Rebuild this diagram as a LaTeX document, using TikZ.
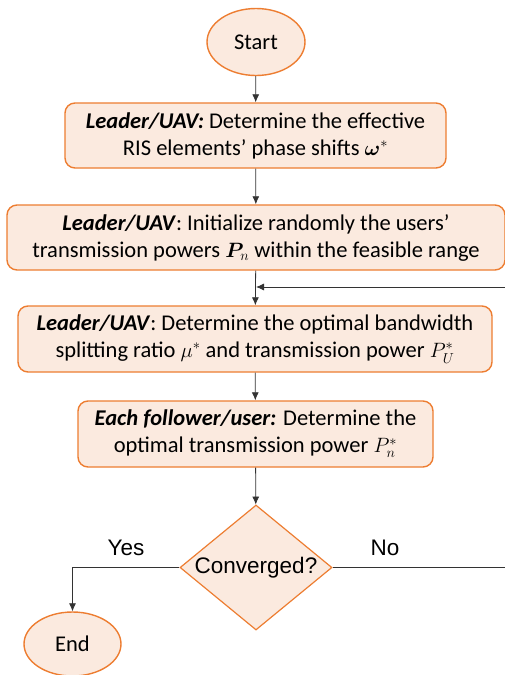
\documentclass[tikz,border=0pt]{standalone}
\usepackage{amsmath}
\usepackage{amssymb}
\usepackage{bm}
\usepackage{fontspec}
\setmainfont{Carlito}
\newfontfamily\arialfont{Liberation Sans}
\usetikzlibrary{shapes.geometric,arrows.meta}

\definecolor{boxfill}{HTML}{FBEADF}
\definecolor{boxline}{HTML}{ED7D31}

\tikzset{
  stepbox/.style={draw=boxline, fill=boxfill, line width=1.4pt, rounded corners=10pt,
    align=center, inner sep=0pt, font=\fontsize{22.5}{27}\selectfont},
  terminal/.style={ellipse, draw=boxline, fill=boxfill, line width=1.4pt,
    inner sep=0pt, font=\fontsize{22.5}{27}\selectfont},
  decision/.style={diamond, draw=boxline, fill=boxfill, line width=1.2pt,
    inner sep=0pt, font=\arialfont\fontsize{22.5}{27}\selectfont},
  flow/.style={draw=black!80, line width=0.8pt, -{Latex[length=8pt,width=7pt]}},
  answer/.style={font=\arialfont\fontsize{22.5}{27}\selectfont}
}

\begin{document}
\begin{tikzpicture}[x=1pt,y=-1pt]
\useasboundingbox (0,0) rectangle (504,675) ;
\node[terminal, minimum width=98pt, minimum height=67pt] (start) at (256,42) {Start} ;
\node[stepbox, minimum width=381pt, minimum height=65pt] (phase) at (255.5,135.5)
  {\textbf{\textit{Leader/UAV:}} Determine the effective\\RIS elements' phase shifts $\bm{\omega}^{*}$} ;
\node[stepbox, minimum width=498pt, minimum height=65pt] (init) at (256,237.5)
  {\textbf{\textit{Leader/UAV}}: Initialize randomly the users'\\transmission powers $\bm{P}_{n}$ within the feasible range} ;
\node[stepbox, minimum width=474pt, minimum height=66pt] (leader) at (255,339)
  {\textbf{\textit{Leader/UAV}}: Determine the optimal bandwidth\\splitting ratio $\mu^{*}$ and transmission power $P_{U}^{*}$} ;
\node[stepbox, minimum width=355pt, minimum height=66pt] (follower) at (255.5,434)
  {\textbf{\textit{Each follower/user:}} Determine the\\optimal transmission power $P_{n}^{*}$} ;
\node[decision, minimum width=152pt, minimum height=125pt, aspect=1.2] (conv) at (256,567.5) {Converged?} ;
\node[terminal, minimum width=97pt, minimum height=64pt] (end) at (72.5,644) {End} ;
\coordinate (loop) at (256,287) ;
\coordinate (edge) at (507,567.5) ;

\draw[flow] (start) -- (phase) ;
\draw[flow] (phase) -- (init) ;
\draw[flow] (init) -- (leader) ;
\draw[flow] (leader) -- (follower) ;
\draw[flow] (follower) -- (conv) ;
\draw[flow] (conv.west) -| (end.north) ;
\draw[flow] (conv.east) -- (edge) |- (loop) ;
\node[answer] (yes) at (126,548) {Yes} ;
\node[answer] (no) at (385,548) {No} ;
\end{tikzpicture}
\end{document}
